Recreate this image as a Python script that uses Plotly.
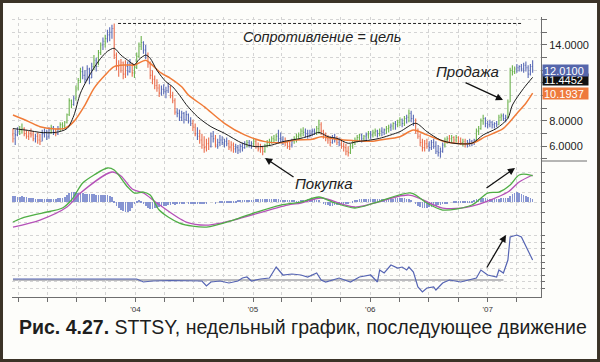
import plotly.graph_objects as go
from plotly.subplots import make_subplots
import pandas as pd

# ---------------- data (weekly, STTSY) ----------------
START = "2002-12-16"
N_WEEKS = 232
weeks = pd.date_range(START, periods=N_WEEKS, freq="7D")

OPEN = [6.9,6.6,6.9,7.2,7.3,7.4,7.0,6.8, 7.0,6.9,6.6,6.8,6.5,6.4,7.0,7.1,
        6.8,7.3,7.5,7.1,7.0,7.4,7.7,7.6, 7.9,8.5,9.6,9.3,9.8,10.6,11.2,11.9,
        11.6,11.3,12.1,11.4,12.3,12.8,12.3,13.4, 14.0,14.3,14.5,14.8,15.0,15.3,13.2,12.3,
        12.4,12.6,11.7,12.3,11.9,12.5,11.8,12.2, 13.1,13.9,14.2,13.6,13.2,12.5,11.6,11.3,
        10.8,10.6,10.2,10.5,10.3,10.4,10.7,10.0, 9.6,8.7,8.6,8.3,8.6,8.1,8.5,8.0,
        7.8,7.5,7.0,6.8,6.5,6.1,5.9,6.2, 6.0,6.8,6.6,6.1,6.3,6.5,6.3,6.4,
        6.2,5.9,6.1,5.8,5.9,5.7,6.0,5.9, 6.2,6.3,6.1,6.2,6.4,6.0,5.8,5.9,
        5.6,6.0,6.3,6.4,6.6,6.5,6.8,6.6, 6.5,6.3,6.4,6.0,6.1,6.4,6.6,6.8,
        6.9,7.2,7.1,7.0,6.8,7.0,7.2,7.1, 7.4,7.7,7.2,6.9,6.6,6.5,6.3,6.7,
        6.5,6.3,6.5,6.0,5.9,5.6,5.5,6.0, 6.3,6.5,6.7,6.9,6.6,6.8,6.9,7.0,
        6.9,7.1,7.2,7.0,7.2,7.1,7.3,7.4, 7.5,7.6,7.8,7.7,7.9,8.1,7.8,8.2,
        8.3,8.6,8.2,7.8,7.2,6.8,6.3,5.9, 6.2,6.0,5.9,6.3,6.0,5.6,5.5,5.6,
        6.1,6.5,6.6,6.6,6.7,6.5,6.7,6.4, 6.3,6.4,6.2,6.3,6.4,6.3,6.5,7.2,
        7.4,8.0,8.2,7.8,7.7,7.9,7.7,7.8, 7.7,8.3,8.4,8.2,8.3,9.5,12.0,11.9,
        12.1,12.2,12.3,12.1,12.4,12.2,11.7,12.3]
HIGH = [7.4,7.3,7.5,7.6,7.8,7.5,7.3,7.2, 7.4,7.2,7.0,7.1,7.0,7.3,7.4,7.3,
        7.5,7.7,7.6,7.4,7.6,7.9,7.9,8.0, 8.6,9.8,9.7,10.0,10.8,11.4,12.2,12.3,
        12.0,12.4,12.2,12.6,13.2,13.0,13.6,14.2, 14.6,14.8,15.2,15.4,15.6,15.7,13.4,12.8,
        12.9,12.7,12.8,12.7,12.9,12.6,12.5,13.4, 14.2,14.7,14.3,14.0,13.4,12.7,12.0,11.6,
        11.3,10.9,10.8,10.9,10.7,11.0,10.8,10.3, 9.8,9.0,8.9,8.8,8.7,8.8,8.6,8.3,
        8.1,7.8,7.5,7.3,7.0,6.8,6.6,6.7, 7.1,7.2,6.9,6.6,6.9,6.8,6.6,6.7,
        6.5,6.4,6.3,6.2,6.1,6.2,6.3,6.4, 6.5,6.5,6.4,6.6,6.5,6.3,6.2,6.0,
        6.2,6.5,6.6,6.8,6.9,7.0,7.3,7.1, 6.8,6.7,6.5,6.4,6.6,6.8,7.0,7.1,
        7.4,7.5,7.4,7.3,7.3,7.4,7.4,7.6, 8.1,7.9,7.3,7.1,6.9,6.8,6.9,7.0,
        6.8,6.7,6.6,6.3,6.2,6.0,6.2,6.5, 6.7,6.9,7.0,7.0,6.9,7.1,7.2,7.2,
        7.3,7.4,7.3,7.4,7.5,7.4,7.6,7.7, 7.8,7.9,8.0,8.1,8.3,8.2,8.4,8.5,
        8.9,8.8,8.5,8.2,7.4,7.0,6.6,6.5, 6.6,6.4,6.5,6.6,6.4,6.1,5.9,6.3,
        6.7,6.8,6.9,6.9,6.8,6.9,6.8,6.7, 6.6,6.6,6.5,6.6,6.5,6.6,7.4,7.6,
        8.2,8.5,8.3,8.0,8.1,8.0,7.9,8.0, 8.5,8.6,8.6,8.5,9.7,12.2,12.4,12.3,
        12.5,12.4,12.5,12.6,12.7,12.4,12.5,12.8]
LOW = [6.3,6.1,6.8,6.9,7.0,6.8,6.6,6.5, 6.7,6.4,6.3,6.2,6.1,6.4,6.7,6.5,
       6.6,7.0,6.9,6.8,6.9,7.2,7.3,7.4, 7.8,8.4,9.0,9.2,9.6,10.4,11.0,11.3,
       11.0,11.2,10.9,11.4,12.0,11.9,12.4,13.2, 13.6,13.8,14.2,14.3,14.5,12.9,12.0,11.5,
       11.8,11.3,11.4,11.6,11.8,11.5,11.4,12.1, 13.0,13.6,13.3,12.9,12.2,11.3,10.9,10.5,
       10.3,9.9,10.0,10.1,9.8,10.2,9.8,9.4, 8.5,8.3,8.0,8.0,7.8,8.0,7.8,7.6,
       7.2,6.8,6.5,6.2,5.8,5.5,5.6,5.7, 5.9,6.3,5.9,5.8,6.0,6.1,5.9,6.0,
       5.7,5.6,5.5,5.5,5.4,5.5,5.6,5.8, 5.9,5.9,5.8,6.0,5.8,5.6,5.5,5.3,
       5.5,5.9,6.0,6.2,6.3,6.4,6.3,6.3, 6.1,6.0,5.8,5.7,5.9,6.2,6.3,6.5,
       6.7,6.8,6.7,6.6,6.7,6.8,6.9,6.9, 7.0,6.9,6.6,6.4,6.2,6.0,6.2,6.3,
       6.1,6.0,5.8,5.6,5.3,5.2,5.4,5.8, 6.1,6.3,6.4,6.3,6.4,6.5,6.6,6.6,
       6.7,6.8,6.7,6.8,6.8,6.9,7.0,7.1, 7.2,7.3,7.3,7.5,7.6,7.5,7.6,7.8,
       7.9,7.9,7.6,7.0,6.6,6.0,5.6,5.6, 5.8,5.6,5.7,5.8,5.4,5.2,5.1,5.5,
       5.9,6.2,6.3,6.3,6.2,6.3,6.2,6.1, 6.0,5.9,5.9,6.0,6.0,6.1,6.4,6.9,
       7.3,7.7,7.5,7.4,7.5,7.4,7.4,7.5, 7.7,8.0,8.0,7.9,8.2,9.5,11.6,11.7,
       11.8,11.9,11.9,11.8,11.9,11.4,11.6,11.8]
CLOSE = [6.6,6.9,7.2,7.3,7.4,7.0,6.8,7.0, 6.9,6.6,6.8,6.5,6.4,7.0,7.1,6.8,
         7.3,7.5,7.1,7.0,7.4,7.7,7.6,7.9, 8.5,9.6,9.3,9.8,10.6,11.2,11.9,11.6,
         11.3,12.1,11.4,12.3,12.8,12.3,13.4,14.0, 14.3,14.5,14.8,15.0,15.3,13.2,12.3,12.4,
         12.6,11.7,12.3,11.9,12.5,11.8,12.2,13.1, 13.9,14.2,13.6,13.2,12.5,11.6,11.3,10.8,
         10.6,10.2,10.5,10.3,10.4,10.7,10.0,9.6, 8.7,8.6,8.3,8.6,8.1,8.5,8.0,7.8,
         7.5,7.0,6.8,6.5,6.1,5.9,6.2,6.0, 6.8,6.6,6.1,6.3,6.5,6.3,6.4,6.2,
         5.9,6.1,5.8,5.9,5.7,6.0,5.9,6.2, 6.3,6.1,6.2,6.4,6.0,5.8,5.9,5.6,
         6.0,6.3,6.4,6.6,6.5,6.8,6.6,6.5, 6.3,6.4,6.0,6.1,6.4,6.6,6.8,6.9,
         7.2,7.1,7.0,6.8,7.0,7.2,7.1,7.4, 7.7,7.2,6.9,6.6,6.5,6.3,6.7,6.5,
         6.3,6.5,6.0,5.9,5.6,5.5,6.0,6.3, 6.5,6.7,6.9,6.6,6.8,6.9,7.0,6.9,
         7.1,7.2,7.0,7.2,7.1,7.3,7.4,7.5, 7.6,7.8,7.7,7.9,8.1,7.8,8.2,8.3,
         8.6,8.2,7.8,7.2,6.8,6.3,5.9,6.2, 6.0,5.9,6.3,6.0,5.6,5.5,5.6,6.1,
         6.5,6.6,6.6,6.7,6.5,6.7,6.4,6.3, 6.4,6.2,6.3,6.4,6.3,6.5,7.2,7.4,
         8.0,8.2,7.8,7.7,7.9,7.7,7.8,7.7, 8.3,8.4,8.2,8.3,9.5,12.0,11.9,12.1,
         12.2,12.3,12.1,12.4,12.2,11.7,12.3,12.01]
# impulse colour of each bar: g = green, b = blue, r = red
IMPULSE = ("rbbggrrr" "rrbrrbbb" "bgbrbggg" "gggbgggb" "bbbbgbgg" "bgbbbrrr"
           "rrrbbrgg" "ggbbrrrr" "rrbbbbrr" "rbbbbbbb" "rrbrrrrr" "bbrbbbbb"
           "rrrbbbbb" "gbbgrrrr" "ggggggbb" "brrrbggg" "ggbbbbbg" "grrrrrbb"
           "rbrrrrgg" "gggbgbgb" "ggbgbbgg" "bgbggbgb" "gbbrrrrr" "rbbbbbbb"
           "ggrgrgrr" "grbbbbgg" "ggbbbbbb" "ggbbgggg" "bbbbbbbb")

FAST_MA_IDX = [0, 7, 12, 19, 24, 27, 30, 35, 39, 42, 45, 48, 51, 54, 56, 59, 61, 64,
               68, 71, 75, 77, 82, 88, 94, 102, 108, 115, 120, 124, 128, 133, 136,
               140, 144, 149, 153, 159, 163, 172, 179, 184, 190, 196, 204, 209, 215,
               220, 222, 227, 231]
FAST_MA = [7.4, 7.25, 7.1, 7.1, 7.4, 8.4, 10.2, 11.9, 12.95, 13.5, 13.74, 13.2, 12.8,
           12.45, 12.85, 13.2, 12.95, 12.0, 11.1, 10.7, 9.8, 9.3, 8.34, 7.55, 7.03,
           6.24, 5.97, 6.1, 6.37, 6.5, 6.63, 6.9, 7.1, 6.76, 6.63, 6.24, 6.37, 6.5,
           6.63, 7.16, 7.82, 7.16, 6.5, 6.24, 6.24, 6.9, 7.42, 8.21, 9.26, 10.58, 11.4452]
SLOW_MA_IDX = [0, 7, 12, 19, 23, 27, 32, 36, 41, 45, 50, 54, 59, 61, 66, 70, 75, 78,
               85, 94, 103, 112, 120, 125, 133, 137, 144, 151, 160, 163, 172, 178,
               184, 193, 204, 210, 218, 224, 228, 231]
SLOW_MA = [8.47, 7.95, 7.55, 7.37, 7.42, 7.95, 9.26, 10.58, 11.63, 12.29, 12.42,
           12.42, 12.8, 12.55, 11.77, 11.37, 10.7, 10.05, 9.13, 7.82, 6.9, 6.37,
           6.29, 6.5, 6.55, 6.76, 6.55, 6.45, 6.4, 6.5, 6.76, 7.29, 6.9, 6.32,
           6.24, 6.76, 7.42, 8.6, 9.4, 10.1937]

MACD_IDX = [0, 4, 13, 22, 26, 31, 36, 42, 45, 51, 54, 58, 61, 65, 74, 86, 98, 107,
            119, 128, 136, 142, 152, 162, 177, 184, 191, 204, 211, 216, 221, 225, 230, 231]
MACD_LINE = [-2.0, -1.6, -1.1, -0.6, 0.2, 1.9, 2.7, 3.4, 3.2, 1.5, 0.9, 1.0, 0.7,
             -0.8, -2.1, -2.5, -1.8, -1.1, -0.3, 0.0, 0.5, 0.0, -0.6, 0.0, 0.9,
             -0.1, -0.8, -0.3, 0.9, 1.0, 1.7, 2.7, 2.7, 2.6]
SIGNAL_IDX = [0, 12, 24, 30, 44, 48, 53, 58, 64, 77, 87, 98, 122, 128, 137, 152,
              176, 191, 204, 220, 225, 231]
SIGNAL_LINE = [-2.5, -1.8, -0.5, 0.9, 3.0, 2.6, 1.3, 0.9, -0.1, -2.0, -2.3, -1.8,
               -0.3, -0.1, 0.4, -0.5, 0.7, -0.6, -0.4, 1.0, 2.0, 2.7]
HIST = [0.6,0.6,0.5,0.5,0.6,0.5,0.5,0.4, 0.4,0.4,0.3,0.3,0.3,0.3,0.3,0.3,
        0.3,0.3,0.3,0.3,0.4,0.4,0.4,0.5, 0.7,0.9,1.0,1.0,1.0,0.9,0.9,0.9,
        0.8,0.8,0.8,0.8,0.8,0.7,0.7,0.7, 0.7,0.7,0.7,0.6,0.5,0.1,-0.4,-0.6,
        -0.8,-0.9,-1.0,-1.0,-0.9,-0.6,-0.2,0.1, 0.2,0.1,-0.2,-0.4,-0.6,-0.7,-0.7,-0.6,
        -0.6,-0.5,-0.5,-0.4,-0.4,-0.3,-0.3,-0.2, -0.3,-0.2,-0.1,-0.1,-0.1,0.0,-0.1,-0.1,
        -0.1,-0.1,-0.2,-0.2,-0.1,-0.1,-0.1,0.0, 0.0,0.0,-0.1,0.0,0.1,0.1,0.1,0.1,
        0.1,0.1,0.1,0.1,0.2,0.2,0.2,0.2, 0.2,0.2,0.2,0.2,0.3,0.3,0.3,0.3,
        0.3,0.3,0.3,0.3,0.3,0.3,0.3,0.2, 0.2,0.2,0.2,0.2,0.2,0.2,0.1,0.1,
        0.2,0.2,0.2,0.3,0.3,0.3,0.3,0.2, 0.2,0.0,-0.2,-0.3,-0.3,-0.4,-0.4,-0.3,
        -0.3,-0.3,-0.2,-0.2,-0.2,-0.1,0.0,0.1, 0.2,0.2,0.3,0.3,0.3,0.3,0.3,0.3,
        0.3,0.3,0.3,0.3,0.3,0.3,0.3,0.3, 0.3,0.3,0.4,0.4,0.4,0.4,0.4,0.3,
        0.3,0.2,0.0,-0.2,-0.4,-0.5,-0.6,-0.6, -0.6,-0.5,-0.5,-0.4,-0.4,-0.3,-0.3,-0.2,
        -0.1,-0.1,0.0,0.0,0.1,0.1,0.1,0.1, 0.1,0.1,0.1,0.1,0.1,0.2,0.3,0.3,
        0.4,0.4,0.4,0.3,0.3,0.3,0.3,0.3, 0.3,0.4,0.4,0.4,0.4,0.6,0.8,0.9,
        1.0,0.9,0.8,0.7,0.6,0.5,0.4,0.3]

LOWER_IDX = [0, 55, 58, 62, 70, 84, 86, 88, 92, 96, 100, 102, 104, 106, 110, 114, 117,
             120, 124, 128, 131, 135, 137, 139, 145, 150, 154, 159, 162, 163, 165, 168,
             171, 173, 175, 176, 178, 180, 182, 184, 187, 188, 191, 194, 199, 203, 206,
             208, 211, 215, 216, 218, 220, 221, 224, 226, 231]
LOWER = [0.1, 0.1, -0.2, -0.1, -0.05, -0.1, -0.6, -0.2, -0.1, -0.3, -0.1, 0.2, 0.3,
         -0.1, 0.1, 0.2, 1.3, 0.5, 0.6, 0.5, 0.3, 0.7, 0.0, -0.2, 0.2, -0.2, 0.3, 0.5,
         -0.2, 1.0, 0.7, 1.5, 1.2, 1.3, 1.0, 1.3, 0.8, -0.7, -1.2, -0.8, -0.7, -1.0,
         -0.3, 0.0, -0.2, 0.0, 0.2, 1.0, 0.5, 0.3, 1.0, 0.7, 2.0, 4.3, 4.5, 4.3, 2.0]

YEAR_TICKS = ["2003-01-01", "2004-01-01", "2005-01-01", "2006-01-01", "2007-01-01"]
YEAR_LABELS = ["", "'04", "'05", "'06", "'07"]
PRICE_TICKS = list(range(5, 17))
PRICE_LABELED = [6, 8, 14]
PRICE_LABELS = [f"{v:.4f}" if v in PRICE_LABELED else "" for v in PRICE_TICKS]

# ---------------- styling ----------------
FONT = "Liberation Sans, Arial, sans-serif"
BAR_COLORS = {"g": "#6db34f", "b": "#5b6cb6", "r": "#ea6f4f"}
GRID = "#d4d4d4"
AXIS = "#6e6e6e"

fig = make_subplots(rows=3, cols=1, shared_xaxes=True, vertical_spacing=0)

for key, col in BAR_COLORS.items():
    idx = [i for i, k in enumerate(IMPULSE) if k == key]
    fig.add_trace(go.Ohlc(
        x=weeks[idx], open=[OPEN[i] for i in idx], high=[HIGH[i] for i in idx],
        low=[LOW[i] for i in idx], close=[CLOSE[i] for i in idx],
        increasing=dict(line=dict(color=col, width=1.1)),
        decreasing=dict(line=dict(color=col, width=1.1)),
        tickwidth=0.35, hoverinfo="skip"), row=1, col=1)

fig.add_trace(go.Scatter(x=weeks[SLOW_MA_IDX], y=SLOW_MA, mode="lines",
                         line=dict(color="#f07b38", width=1.5, shape="spline", smoothing=0.8)),
              row=1, col=1)
fig.add_trace(go.Scatter(x=weeks[FAST_MA_IDX], y=FAST_MA, mode="lines",
                         line=dict(color="#1c1c1c", width=1, shape="spline", smoothing=0.8)),
              row=1, col=1)

fig.add_trace(go.Bar(x=weeks, y=HIST, width=2.0 * 86400000,
                     marker=dict(color="#7383cc", line=dict(width=0)), opacity=0.85),
              row=2, col=1)
fig.add_trace(go.Scatter(x=weeks[SIGNAL_IDX], y=SIGNAL_LINE, mode="lines",
                         line=dict(color="#b552b8", width=1.3, shape="spline", smoothing=0.8)),
              row=2, col=1)
fig.add_trace(go.Scatter(x=weeks[MACD_IDX], y=MACD_LINE, mode="lines",
                         line=dict(color="#4fae45", width=1.3, shape="spline", smoothing=0.8)),
              row=2, col=1)

fig.add_trace(go.Scatter(x=weeks[LOWER_IDX], y=LOWER, mode="lines",
                         line=dict(color="#5564b3", width=1.2)), row=3, col=1)

XRANGE = ["2002-12-13", "2007-06-16"]
common_x = dict(type="date", range=XRANGE, rangeslider=dict(visible=False),
                tickvals=YEAR_TICKS, ticktext=YEAR_LABELS,
                showgrid=True, gridcolor=GRID, griddash="dot", gridwidth=1,
                minor=dict(dtick="M3", tick0="2003-01-01", showgrid=True,
                           gridcolor=GRID, griddash="dot", ticks=""),
                zeroline=False)
for r in (1, 2):
    fig.update_xaxes(common_x, row=r, col=1, ticks="", showticklabels=False, showline=False)
fig.update_xaxes(common_x, row=3, col=1, ticks="outside", ticklen=4, tickcolor=AXIS,
                 showline=True, linecolor=AXIS, linewidth=1, showticklabels=True,
                 tickfont=dict(family=FONT, size=8, color="#333333"))
fig.update_xaxes(minor=dict(ticks="outside", ticklen=4, tickcolor=AXIS), row=3, col=1)

fig.update_yaxes(domain=[0.4857, 1.0], range=[4.84, 16.21], side="right",
                 tickvals=PRICE_TICKS, ticktext=PRICE_LABELS, ticks="outside", ticklen=5,
                 tickcolor=AXIS, showline=True, linecolor=AXIS, linewidth=1,
                 showgrid=True, gridcolor=GRID, griddash="dot", zeroline=False,
                 tickfont=dict(family=FONT, size=11, color="#222222"), row=1, col=1)
fig.update_yaxes(domain=[0.232, 0.4857], range=[-3.0, 4.1], side="right",
                 tickvals=[-2, -1, 0, 1, 2, 3], showticklabels=False, ticks="outside",
                 ticklen=3, tickcolor=AXIS, showline=True, linecolor=AXIS, linewidth=1,
                 showgrid=True, gridcolor=GRID, griddash="dot", zeroline=False, row=2, col=1)
fig.update_yaxes(domain=[0.0, 0.232], range=[-1.7, 4.8], side="right",
                 tickvals=[-0.8, -0.1, 0.5, 1.2, 1.8, 2.5, 3.2, 3.8, 4.5],
                 showticklabels=False, ticks="outside", ticklen=3, tickcolor=AXIS,
                 showline=True, linecolor=AXIS, linewidth=1, showgrid=True,
                 gridcolor=GRID, griddash="dot", zeroline=False, row=3, col=1)

shapes = [
    dict(type="rect", xref="paper", yref="paper", x0=-0.0170, x1=1.1059, y0=-0.2214, y1=1.05,
         fillcolor="#fdfdfa", line=dict(width=0), layer="below"),
    dict(type="line", xref="paper", yref="paper", x0=1.0, x1=1.087, y0=0.4857, y1=0.4857,
         line=dict(color=AXIS, width=1)),
    dict(type="line", xref="x", yref="y", x0="2003-11-08", x1="2007-04-15",
         y0=max(HIGH), y1=max(HIGH), line=dict(color="#222222", width=1, dash="3px,2px")),
    dict(type="line", xref="x3", yref="y3", x0=weeks[0], x1=weeks[218], y0=0, y1=0,
         line=dict(color="#a4a4aa", width=1.5), layer="below"),
]

annotations = [
    dict(xref="paper", yref="paper", x=0.00945, y=-0.107, xanchor="left", yanchor="middle",
         showarrow=False, text="<b>Рис. 4.27.</b> STTSY, недельный график, последующее движение",
         font=dict(family=FONT, size=19.5, color="#1e1e1e")),
    dict(xref="paper", yref="paper", x=0.586, y=0.9286, xanchor="center", yanchor="middle",
         showarrow=False, text="<i>Сопротивление = цель</i>",
         font=dict(family=FONT, size=14.5, color="#222222")),
    dict(xref="paper", yref="paper", x=0.862, y=0.807, xanchor="center", yanchor="middle",
         showarrow=False, text="<i>Продажа</i>",
         font=dict(family=FONT, size=15, color="#222222")),
    dict(xref="paper", yref="paper", x=0.588, y=0.407, xanchor="center", yanchor="middle",
         showarrow=False, text="<i>Покупка</i>",
         font=dict(family=FONT, size=15, color="#222222")),
]
for hx, hy, ax, ay in [(0.4783, 0.4964, 30, 20), (0.9282, 0.7036, -39, -18),
                       (0.9509, 0.4607, -30, 21), (0.9338, 0.2214, -20, 34)]:
    annotations.append(dict(xref="paper", yref="paper", x=hx, y=hy, ax=ax, ay=ay, text="",
                            showarrow=True, arrowhead=2, arrowsize=1.1, arrowwidth=1.3,
                            arrowcolor="#111111"))
for val, bg, shift in [(FAST_MA[-1], "#111111", -2), (CLOSE[-1], "#5566ab", 0),
                       (SLOW_MA[-1], "#ee7a3c", 0)]:
    annotations.append(dict(xref="paper", yref="y", x=1.0, xshift=1, y=val, yshift=shift,
                            xanchor="left", yanchor="middle", showarrow=False,
                            text=f"{val:.4f}", bgcolor=bg, width=43, height=9, borderpad=1,
                            align="left", font=dict(family=FONT, size=11, color="#ffffff")))

fig.update_layout(width=600, height=362, margin=dict(l=12, r=59, t=17, b=65),
                  paper_bgcolor="#3b3327", plot_bgcolor="rgba(0,0,0,0)",
                  showlegend=False, bargap=0, shapes=shapes, annotations=annotations,
                  font=dict(family=FONT))

fig.write_html("out.html", config={"displayModeBar": False},
               post_script="document.body.style.margin='0';document.body.style.padding='0';")
